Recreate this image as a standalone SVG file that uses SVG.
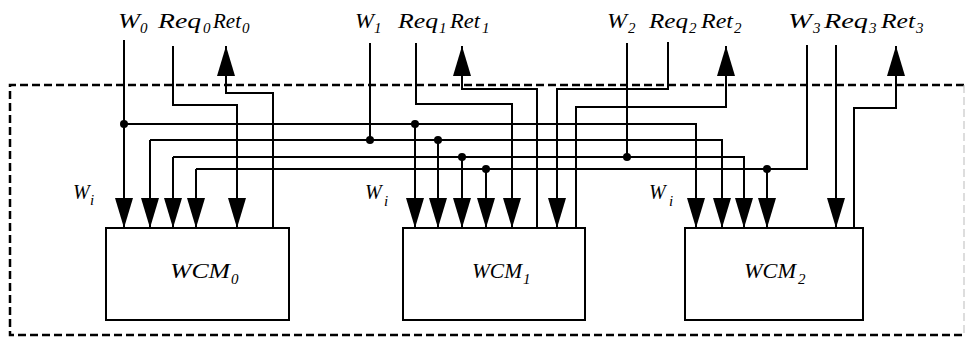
<svg xmlns="http://www.w3.org/2000/svg" width="966" height="344" viewBox="0 0 966 344">
<defs>
<marker id="arr" markerUnits="userSpaceOnUse" markerWidth="30" markerHeight="18" refX="30" refY="9" orient="auto" viewBox="0 0 30 18">
<path d="M0,0 L30,9 L0,18 Z" fill="#000"/>
</marker>
<style>
.w{fill:none;stroke:#000;stroke-width:2}
.a{marker-end:url(#arr)}
.d{fill:#000}
.box{fill:#fff;stroke:#000;stroke-width:2}
.t{font-family:"Liberation Serif","Times New Roman",serif;font-style:italic;font-size:22px;fill:#000}
.s{font-family:"Liberation Serif","Times New Roman",serif;font-style:italic;font-size:15px;fill:#000}
.wi{font-family:"Liberation Serif","Times New Roman",serif;font-style:italic;font-size:20px;fill:#000}
.brd{fill:none;stroke:#000;stroke-width:2.5;stroke-dasharray:8 4}
</style>
</defs>
<rect width="966" height="344" fill="#fff"/>
<g id="border">
<path class="brd" d="M964,85 H10 V335 H964"/>
<path d="M964,85 V335" fill="none" stroke="#bbb" stroke-width="1" stroke-dasharray="8 4"/>
</g>
<g id="connectors">
<path class="w a" d="M124,40 V228"/>
<path class="w a" d="M173,46 V105 H237 V228"/>
<path class="w a" d="M273,228 V93 H226 V46"/>
<path class="w a" d="M124,124 H696 V228"/>
<path class="w a" d="M150,140 V228"/>
<path class="w a" d="M150,140 H722 V228"/>
<path class="w a" d="M173,157 V228"/>
<path class="w a" d="M173,157 H744 V228"/>
<path class="w a" d="M196,169 V228"/>
<path class="w" d="M807,45 V169 H196"/>
<path class="w a" d="M415,124 V228"/>
<path class="w a" d="M438,140 V228"/>
<path class="w a" d="M462,157 V228"/>
<path class="w a" d="M486,169 V228"/>
<path class="w a" d="M767,169 V228"/>
<path class="w" d="M370,43 V140"/>
<path class="w a" d="M416,43 V104 H512 V228"/>
<path class="w a" d="M537,228 V89 H462 V46"/>
<path class="w a" d="M668,42 V89 H557 V228"/>
<path class="w a" d="M576,228 V107 H726 V46"/>
<path class="w" d="M627,43 V157"/>
<path class="w a" d="M836,45 V228"/>
<path class="w a" d="M854,228 V108 H896 V46"/>
<circle class="d" cx="124" cy="124" r="4"/>
<circle class="d" cx="370" cy="140" r="4"/>
<circle class="d" cx="415" cy="124" r="4"/>
<circle class="d" cx="438" cy="140" r="4"/>
<circle class="d" cx="462" cy="157" r="4"/>
<circle class="d" cx="486" cy="169" r="4"/>
<circle class="d" cx="627" cy="157" r="4"/>
<circle class="d" cx="767" cy="169" r="4"/>
</g>
<g id="WCM0">
<rect class="box" x="106" y="228" width="183" height="92"/>
<text class="t" x="170" y="278" textLength="60" lengthAdjust="spacingAndGlyphs">WCM</text><text class="s" x="231" y="284">0</text>
</g>
<g id="WCM1">
<rect class="box" x="403" y="228" width="182" height="92"/>
<text class="t" x="472" y="278" textLength="50" lengthAdjust="spacingAndGlyphs">WCM</text><text class="s" x="523" y="284">1</text>
</g>
<g id="WCM2">
<rect class="box" x="685" y="228" width="178" height="92"/>
<text class="t" x="744" y="278" textLength="52" lengthAdjust="spacingAndGlyphs">WCM</text><text class="s" x="798" y="284">2</text>
</g>
<g id="labels">
<text class="t" x="118" y="28" textLength="22" lengthAdjust="spacingAndGlyphs">W</text><text class="s" x="140" y="33">0</text>
<text class="t" x="158" y="28" textLength="43" lengthAdjust="spacingAndGlyphs">Req</text><text class="s" x="203" y="33">0</text>
<text class="t" x="213" y="28" textLength="28" lengthAdjust="spacingAndGlyphs">Ret</text><text class="s" x="242" y="33">0</text>
<text class="t" x="355" y="28" textLength="19" lengthAdjust="spacingAndGlyphs">W</text><text class="s" x="374" y="33">1</text>
<text class="t" x="398" y="28" textLength="40" lengthAdjust="spacingAndGlyphs">Req</text><text class="s" x="439" y="33">1</text>
<text class="t" x="450" y="28" textLength="30" lengthAdjust="spacingAndGlyphs">Ret</text><text class="s" x="482" y="33">1</text>
<text class="t" x="607" y="28" textLength="20" lengthAdjust="spacingAndGlyphs">W</text><text class="s" x="628" y="33">2</text>
<text class="t" x="649" y="28" textLength="39" lengthAdjust="spacingAndGlyphs">Req</text><text class="s" x="689" y="33">2</text>
<text class="t" x="701" y="28" textLength="32" lengthAdjust="spacingAndGlyphs">Ret</text><text class="s" x="734" y="33">2</text>
<text class="t" x="788" y="28" textLength="24" lengthAdjust="spacingAndGlyphs">W</text><text class="s" x="813" y="33">3</text>
<text class="t" x="824" y="28" textLength="44" lengthAdjust="spacingAndGlyphs">Req</text><text class="s" x="869" y="33">3</text>
<text class="t" x="881" y="28" textLength="34" lengthAdjust="spacingAndGlyphs">Ret</text><text class="s" x="916" y="33">3</text>
<text class="wi" x="73" y="199">W</text><text class="s" x="90" y="205">i</text>
<text class="wi" x="365" y="199">W</text><text class="s" x="384" y="206">i</text>
<text class="wi" x="649" y="199">W</text><text class="s" x="669" y="206">i</text>
</g>
</svg>
